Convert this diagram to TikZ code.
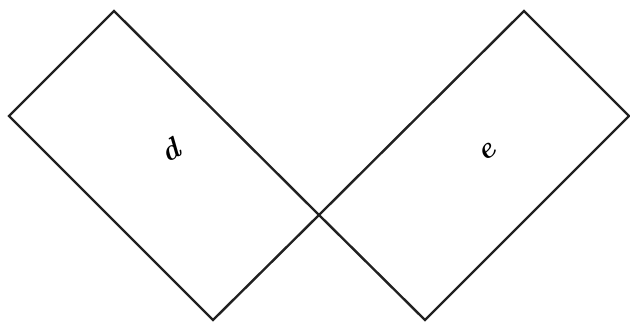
\documentclass[tikz,border=0pt]{standalone}
\usepackage{graphicx}
\begin{document}
\begin{tikzpicture}[x=1pt,y=-1pt,
  box/.style={draw=black!87,line width=2.4pt,line join=miter},
  lab/.style={font=\bfseries\itshape\fontsize{30}{30}\selectfont,text=black}]
\useasboundingbox (0,0) rectangle (630,323);
\coordinate (lt) at (114,11);
\coordinate (ll) at (9,116);
\coordinate (lb) at (213,320);
\coordinate (x) at (319,215);
\coordinate (rt) at (524,11);
\coordinate (rr) at (629,116);
\coordinate (rb) at (425,320);
\draw[box] (lt) -- (ll) -- (lb) -- (x) -- cycle;
\draw[box] (rt) -- (rr) -- (rb) -- (x) -- cycle;
\node[lab] (d) at (170,150) {\rotatebox{30}{d}};
\node[lab] (e) at (487,152) {\rotatebox{40}{e}};
\end{tikzpicture}
\end{document}
